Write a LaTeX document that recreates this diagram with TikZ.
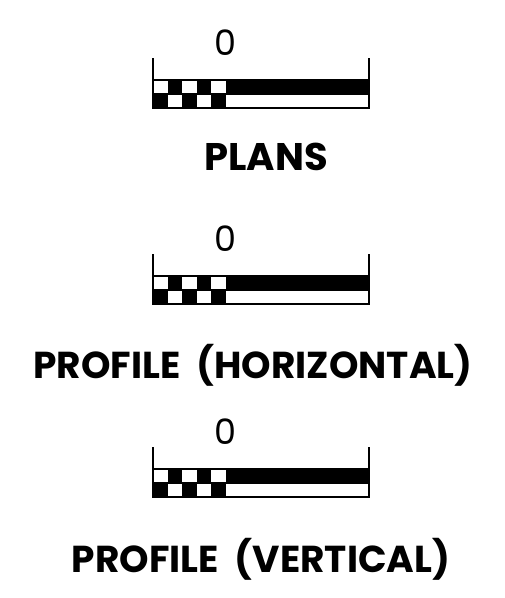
\documentclass[tikz,border=0pt]{standalone}
\usepackage{fontspec}
\setmainfont{Poppins}
\usetikzlibrary{positioning}
\tikzset{%
cell/.style={fill=black},
barline/.style={draw=black, line width=1.2pt},
tickline/.style={draw=black, line width=1.5pt},
zerolabel/.style={font=\fontsize{35}{35}\selectfont, inner sep=0pt, anchor=base},
title/.style={font=\bfseries\fontsize{37.5}{37.5}\selectfont, inner sep=0pt, anchor=base}
}

\begin{document}
\begin{tikzpicture}[x=1pt,y=-1pt]
	\useasboundingbox[fill=white] (0,0) rectangle (505,598);
	% the three scale bars
	\foreach \yb/\n in {80/1,276/2,469/3}{
		\foreach \i in {1,3}
			\fill[cell] ({153+\i*14.6},\yb) rectangle ++(14.6,14);
		\foreach \i in {0,2,4}
			\fill[cell] ({153+\i*14.6},{\yb+14}) rectangle ++(14.6,14);
		\fill[cell] (226,\yb) rectangle (369,{\yb+14});
		\draw[barline] (153,\yb) rectangle (369,{\yb+28});
		\draw[barline] (153,{\yb+14}) -- (369,{\yb+14});
		\draw[tickline] (153,{\yb-22}) -- (153,{\yb+28});
		\draw[tickline] (369,{\yb-22}) -- (369,{\yb+28});
		\node[zerolabel] (zero\n) at (225,{\yb-25}) {0};
	}
	
	\node[title, font=\bfseries\fontsize{38.5}{38.5}\selectfont] (plans) at (266,170) {PLANS};
	\node[title] (profh) at (253,378) {PROFILE\ \ (HORIZONTAL)};
	\node[title] (profv) at (261,572) {PROFILE\ \ (VERTICAL)};
\end{tikzpicture}
\end{document}
